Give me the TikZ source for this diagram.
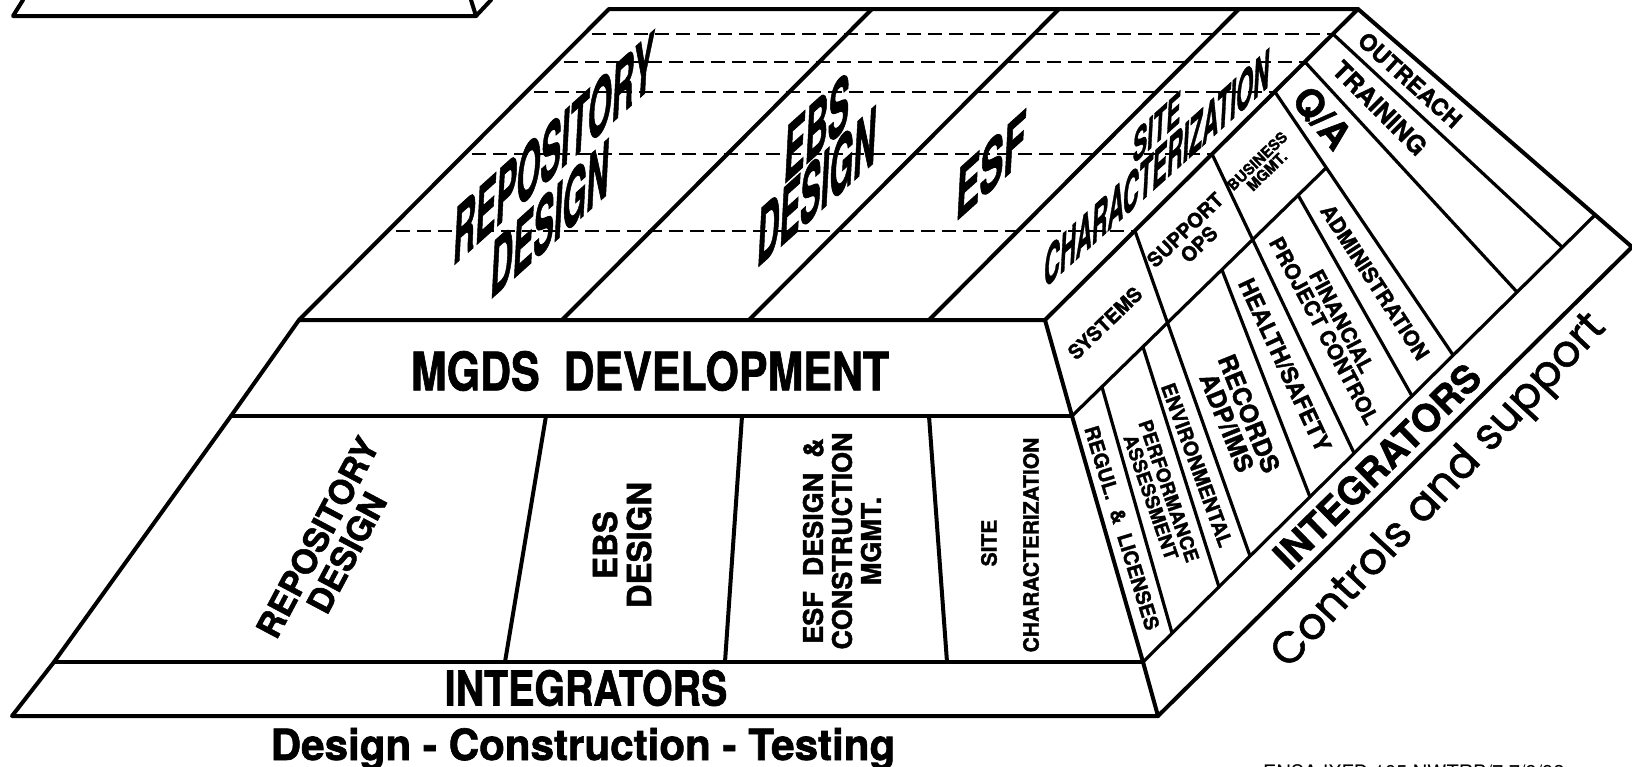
\documentclass[tikz,border=0pt]{standalone}
\usepackage{fontspec}
\setmainfont{TeX Gyre Heros}[BoldFeatures={FakeBold=1.5}]
\newfontfamily\geofont{Poppins}[FakeBold=1.2]
\newcommand\setfs[2]{\fontsize{#1}{#2}\selectfont}
\begin{document}
\begin{tikzpicture}[x=1pt,y=-1pt,
  outl/.style={line width=4pt,line join=round,line cap=round},
  inl/.style={line width=3.2pt,line cap=round},
  dsh/.style={line width=1.6pt,dash pattern=on 14pt off 7pt},
  lbl/.style={inner sep=0pt,align=center},
  toptxt/.style={inner sep=0pt,align=center},
]
\useasboundingbox (0,0) rectangle (1632,766);
\clip (0,0) rectangle (1632,766);

% ---------- fragment of the layer above ----------
\draw[outl] (23,0) -- (13,16) -- (476,16) -- (491,0);
\draw[outl] (471,0) -- (476,16);

% ---------- dashed lines on the top face ----------
\foreach \y/\a/\b in {34/592/1333, 62/564/1305, 92/534/1275, 154/472/1212, 231/396/1135}
  \draw[dsh] (\a,\y) -- (\b,\y);

% ---------- key points ----------
\coordinate (TL) at (609,9);
\coordinate (TR) at (1358,9);
\coordinate (A0) at (299,320);
\coordinate (B0) at (1045,320);
\coordinate (A1) at (231,416);
\coordinate (B1) at (1072,416);
\coordinate (A2) at (54,662);
\coordinate (B2) at (1143,662);
\coordinate (A3) at (12,716);
\coordinate (B3) at (1158,716);
\coordinate (R)  at (1632,247);
\coordinate (M)  at (1595,215);
\coordinate (G1) at (1326,168);

% ---------- top face ----------
\draw[outl] (TL) -- (TR) -- (B0) -- (A0) -- cycle;
\draw[outl] (872,9) -- (562,320);
\draw[outl] (1059,9) -- (749,320);
\draw[outl] (1239,9) -- (929,320);

% ---------- front face ----------
\draw[outl] (A0) -- (A1) -- (A2) -- (A3) -- (B3) -- (B2) -- (B1) -- (B0);
\draw[outl] (A1) -- (B1);
\draw[outl] (A2) -- (B2);
\draw[outl] (546,416) -- (505,662);
\draw[outl] (742,416) -- (725,662);
\draw[outl] (929,416) -- (947,662);

% ---------- right face ----------
\draw[outl] (TR) -- (R) -- (B3);
\draw[inl] (B2) -- (M);
\draw[inl] (B1) -- (G1);
\draw[inl] (1102,387) -- (1172,633);
\draw[inl] (1143,347) -- (1219,587);
\draw[inl] (1135,231) -- (1250,556);
\draw[inl] (1222,270) -- (1310,497);
\draw[inl] (1212,154) -- (1354,453);
\draw[inl] (1298,195) -- (1412,396);
\draw[inl] (1275,92) -- (1453,355);
\draw[inl] (1305,62) -- (1517,292);
\draw[inl] (1333,34) -- (1562,247);

% ---------- top face labels ----------
\node[toptxt,font=\setfs{56}{50}\bfseries,rotate=42,xslant=1,xscale=0.74] (trep) at (552,183) {REPOSITORY\\DESIGN};
\node[toptxt,font=\setfs{56}{50}\bfseries,rotate=42,xslant=1,xscale=0.76] (tebs1) at (817,127) {EBS};
\node[toptxt,font=\setfs{57}{50}\bfseries,rotate=42,xslant=1,xscale=0.73] (tebs2) at (817,186) {DESIGN};
\node[toptxt,font=\setfs{51}{50}\bfseries,rotate=42,xslant=1,xscale=0.94] (tesf) at (991,165) {ESF};
\node[toptxt,font=\setfs{32}{36}\bfseries,rotate=42,xslant=1,xscale=0.9] (tsite1) at (1157,127) {SITE};
\node[toptxt,font=\setfs{39}{40}\bfseries,rotate=42,xslant=1,xscale=0.76] (tsite2) at (1157,168) {CHARACTERIZATION};

% ---------- front face labels ----------
\node[lbl,font=\setfs{53}{56}\bfseries,xscale=0.81] (mgds) at (650,371) {MGDS\ \ DEVELOPMENT};
\node[lbl,font=\setfs{48}{50}\bfseries,xscale=0.82] (intf) at (586,688) {INTEGRATORS};
\node[lbl,font=\setfs{43}{45}\bfseries,xscale=0.98,anchor=base] (dct) at (583,760) {Design - Construction - Testing};
\node[lbl,font=\setfs{34}{33}\bfseries,rotate=62] (frep) at (332,545) {REPOSITORY\\DESIGN};
\node[lbl,font=\setfs{33}{34}\bfseries,rotate=90] (febs) at (622,545) {EBS\\DESIGN};
\node[lbl,font=\setfs{27}{29}\bfseries,rotate=90] (fesf) at (842,541) {ESF\ \ DESIGN\ \ \&\\CONSTRUCTION\\MGMT.};
\node[lbl,font=\setfs{21}{22}\bfseries,rotate=90] (fsite1) at (989,543) {SITE};
\node[lbl,font=\setfs{21}{22}\bfseries,rotate=90] (fsite2) at (1031,545) {CHARACTERIZATION};

% ---------- right face labels ----------
\node[lbl,font=\setfs{20}{21}\bfseries,rotate=44] (sys) at (1105,323) {SYSTEMS};
\node[lbl,font=\setfs{20}{20}\bfseries,rotate=44] (sup) at (1192,237) {SUPPORT\\OPS};
\node[lbl,font=\setfs{15}{14}\bfseries,rotate=44] (bus) at (1262,166) {BUSINESS\\MGMT.};
\node[lbl,font=\setfs{20}{21}\bfseries,rotate=-73] (reg) at (1122,528) {REGUL.\ \ \&\ \ LICENSES};
\node[lbl,font=\setfs{19}{19}\bfseries,rotate=-71] (perf) at (1160,494) {PERFORMANCE\\ASSESSMENT};
\node[lbl,font=\setfs{20}{21}\bfseries,rotate=-70] (env) at (1197,465) {ENVIRONMENTAL};
\node[lbl,font=\setfs{25}{24}\bfseries,rotate=-68] (rec) at (1238,418) {RECORDS\\ADP/IMS};
\node[lbl,font=\setfs{23}{24}\bfseries,rotate=-65] (hs) at (1285,365) {HEALTH/SAFETY};
\node[lbl,font=\setfs{21}{20}\bfseries,rotate=-62] (fin) at (1333,326) {FINANCIAL\\PROJECT CONTROL};
\node[lbl,font=\setfs{21}{22}\bfseries,rotate=-57] (adm) at (1375,282) {ADMINISTRATION};
\node[lbl,font=\setfs{38}{40}\bfseries,rotate=-50] (qa) at (1322,118) {Q/A};
\node[lbl,font=\setfs{25}{26}\bfseries,rotate=-45] (trn) at (1380,108) {TRAINING};
\node[lbl,font=\setfs{23}{24}\bfseries,rotate=-42] (outr) at (1410,80) {OUTREACH};
\node[lbl,font=\setfs{38}{40}\bfseries,rotate=44.5] (intr) at (1377,466) {INTEGRATORS};
\node[lbl,font=\setfs{44}{46}\geofont,rotate=47] (ctl) at (1440,492) {Controls and support};

% ---------- footer ----------
\node[lbl,font=\setfs{20}{22},anchor=base west] (ref) at (1263,779) {ENSA IXFD 105 NWTRB/7 7/9/92};
\node[lbl,font=\setfs{20}{22},anchor=base west] (pg) at (1628,779) {1};
\end{tikzpicture}
\end{document}
